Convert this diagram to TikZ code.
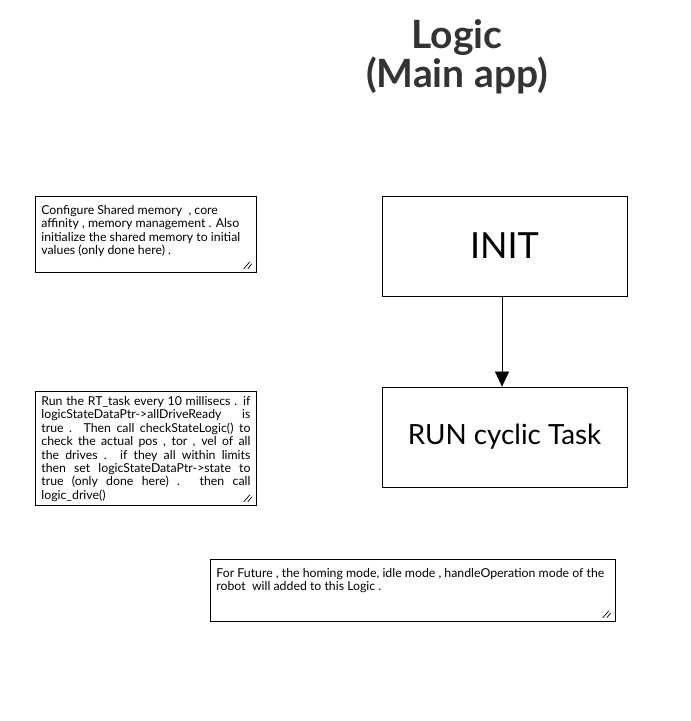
\documentclass[tikz,border=0pt]{standalone}
\usepackage{fontspec}
\setmainfont{Lato}
\usetikzlibrary{arrows.meta}
\definecolor{titlegray}{HTML}{333333}

\tikzset{
  state/.style={draw, line width=0.8pt, minimum width=245pt, minimum height=100pt},
  note/.style={draw, line width=0.8pt, anchor=north west, inner xsep=6pt, inner ysep=5pt,
    font=\fontsize{12.3}{13.4}\selectfont},
  grip/.style={line width=0.7pt},
}

\begin{document}
\begin{tikzpicture}[x=1pt, y=-1pt]
  \useasboundingbox[fill=white] (0,0) rectangle (691,721);

  \node[font=\bfseries\fontsize{39}{39}\selectfont, text=titlegray, align=center] (title) at (457,57) {Logic\\(Main app)};

  % states
  \node[state, font=\fontsize{36}{42}\selectfont] (init) at (504.5,246) {INIT};
  \node[state, font=\fontsize{27.8}{32}\selectfont] (run) at (504.5,437) {RUN cyclic Task};
  \draw[-{Triangle[length=15pt,width=14pt]}, line width=0.7pt] ([xshift=-2.5pt]init.south) -- ([xshift=-2.5pt]run.north);

  % notes
  \node[note, inner ysep=9pt] (cfg) at (35,196) {\parbox[t][58pt][t]{209pt}{\raggedright
    Configure Shared memory~ , core\\
    affinity , memory management . Also\\
    initialize the shared memory to initial\\
    values (only done here) .}};
  \node[note] (cyc) at (35,391) {\parbox[t][104pt][t]{209pt}{
    Run the RT\_task every 10 millisecs . if\linebreak
    logicStateDataPtr->allDriveReady~ ~ is\linebreak
    true . Then call checkStateLogic() to\linebreak
    check the actual pos , tor , vel of all\linebreak
    the drives . if they all within limits\linebreak
    then set logicStateDataPtr->state to\linebreak
    true (only done here) . then call\linebreak
    logic\_drive()}};
  \node[note, inner ysep=9pt] (fut) at (210,559) {\parbox[t][44pt][t]{393pt}{\raggedright
    For Future , the homing mode, idle mode , handleOperation mode of the\\
    robot~ will added to this Logic .}};

  % resize grips
  \foreach \n in {cfg,cyc,fut}{
    \draw[grip] ([shift={(-13,-4)}]\n.south east) -- ++(6,-7);
    \draw[grip] ([shift={(-9,-4)}]\n.south east) -- ++(4,-5);
  }
\end{tikzpicture}
\end{document}
